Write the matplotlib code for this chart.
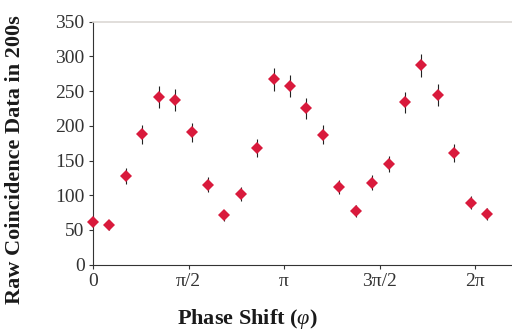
import numpy as np
import matplotlib
matplotlib.use("Agg")
import matplotlib.pyplot as plt

plt.rcParams['font.family'] = ['Liberation Serif', 'DejaVu Serif']
plt.rcParams['mathtext.fontset'] = 'custom'
plt.rcParams['mathtext.rm'] = 'Liberation Serif'
plt.rcParams['mathtext.it'] = 'Liberation Serif:italic'
plt.rcParams['mathtext.bf'] = 'Liberation Serif:bold'

# Phase positions (radians), step
phase = [0.0, 0.27, 0.54, 0.81, 1.08, 1.35, 1.62, 1.89, 2.16, 2.43, 2.70, 2.97,
         3.24, 3.51, 3.78, 4.05, 4.32, 4.59, 4.86, 5.13, 5.40, 5.67, 5.94, 6.21, 6.48]
counts = [62, 57, 128, 188, 242, 237, 191, 115, 71, 102, 168, 267,
          257, 225, 187, 112, 77, 118, 145, 234, 287, 245, 161, 89, 73]
errors = [7.9, 7.5, 11.3, 13.7, 15.6, 15.4, 13.8, 10.7, 8.4, 10.1, 13.0, 16.3,
          16.0, 15.0, 13.7, 10.6, 8.8, 10.9, 12.0, 15.3, 16.9, 15.7, 12.7, 9.4, 8.5]
xtick_vals = [0, np.pi/2, np.pi, 3*np.pi/2, 2*np.pi]
xtick_labels = ['0', 'π/2', 'π', '3π/2', '2π']
ytick_vals = [0, 50, 100, 150, 200, 250, 300, 350]

fig = plt.figure(figsize=(5.12, 3.31), dpi=100)
ax = fig.add_axes([0.1816, 0.2003, 0.8184, 0.7341])

cont = ax.errorbar(phase, counts, yerr=errors, fmt='D', color='#d91a3c', markersize=6,
                   ecolor='#222222', elinewidth=0.8, capsize=2.5, capthick=0.8,
                   markeredgewidth=0, zorder=5)
arts = [cont.lines[0]] + list(cont.lines[1]) + list(cont.lines[2])
for art in arts:
    if art is not None:
        art.set_clip_on(False)

ax.set_xlim(0, 6.89)
ax.set_ylim(0, 350)
ax.set_xticks(xtick_vals)
ax.set_xticklabels(xtick_labels)
ax.set_yticks(ytick_vals)

tc = '#333333'
ax.tick_params(axis='both', labelsize=14, colors=tc, length=3, width=0.8, direction='out', pad=3)
ax.spines['right'].set_visible(False)
ax.spines['top'].set_color('#dcd8d4')
ax.spines['top'].set_linewidth(1.2)
ax.spines['left'].set_color(tc)
ax.spines['bottom'].set_color(tc)
ax.spines['left'].set_linewidth(0.8)
ax.spines['bottom'].set_linewidth(0.8)

ax.set_xlabel(r'Phase Shift ($\varphi$)', fontsize=16, fontweight='bold', color='#1a1a1a')
ax.set_ylabel('Raw Coincidence Data in 200s', fontsize=16, fontweight='bold', color='#1a1a1a')
ax.xaxis.set_label_coords(0.3675, -0.176)
ax.yaxis.set_label_coords(-0.162, 0.431)

fig.savefig('out.png', dpi=100)
